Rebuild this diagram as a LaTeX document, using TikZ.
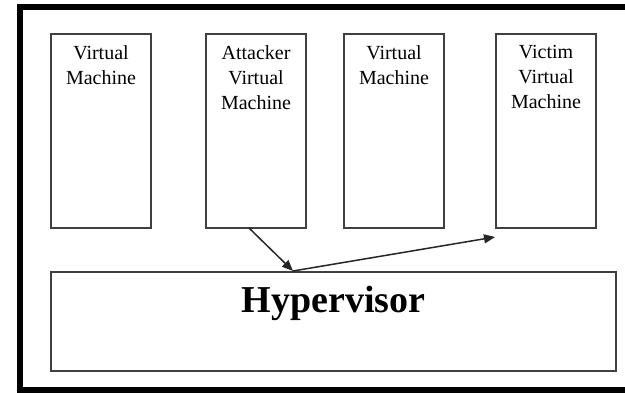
\documentclass[tikz,border=0pt]{standalone}
\usepackage{fontspec}
\setmainfont{Liberation Serif}
\usetikzlibrary{arrows.meta}
\begin{document}
\begin{tikzpicture}[x=1pt,y=-1pt,
  vmbox/.style={draw=black!75,line width=1.3pt},
  vmtext/.style={anchor=north,align=center,font=\fontsize{20}{25}\selectfont,inner sep=0pt},
  conn/.style={draw=black!85,line width=1.5pt,-{Triangle[length=11pt,width=9pt]}}]
\useasboundingbox (0,0) rectangle (625,393);
\clip (0,0) rectangle (625,393);
\fill[white] (0,0) rectangle (625,393);
\draw[line width=6pt,black] (20,7) rectangle (640,390);
\draw[vmbox] (51,34) rectangle (151,228);
\draw[vmbox] (206,34) rectangle (306,228);
\draw[vmbox] (344,34) rectangle (444,228);
\draw[vmbox] (496,34) rectangle (596,228);
\draw[vmbox] (51,272) rectangle (616,371);
\node[vmtext] (t1) at (101,45) {Virtual\\Machine};
\node[vmtext] (t2) at (256,45) {Attacker\\Virtual\\Machine};
\node[vmtext] (t3) at (394,45) {Virtual\\Machine};
\node[vmtext] (t4) at (546,45) {Victim\\Virtual\\Machine};
\node[anchor=base,inner sep=0pt,font=\fontsize{38}{40}\selectfont\bfseries] (hv) at (333.5,313) {Hypervisor};
\coordinate (a) at (249,228);
\coordinate (m) at (293,271);
\coordinate (v) at (495,237);
\draw[conn] (a) -- (m);
\draw[conn] (m) -- (v);
\end{tikzpicture}
\end{document}
